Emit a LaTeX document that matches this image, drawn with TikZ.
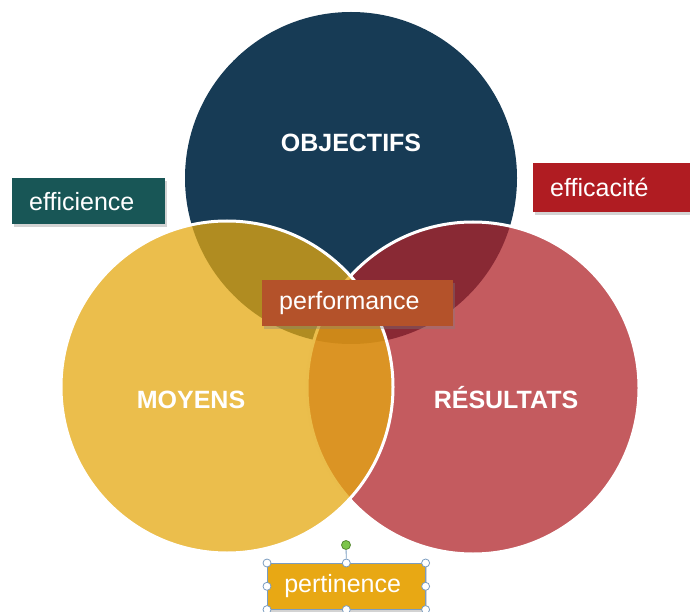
\documentclass[tikz,border=0pt]{standalone}
\usepackage{fontspec}
\setmainfont{Liberation Sans}
\usetikzlibrary{shadows}

\definecolor{objblue}{RGB}{23,59,85}
\definecolor{resred}{RGB}{176,36,42}
\definecolor{moyyellow}{RGB}{228,168,16}
\definecolor{effteal}{RGB}{24,86,86}
\definecolor{effred}{RGB}{176,28,34}
\definecolor{perforange}{RGB}{180,82,42}
\definecolor{pertyellow}{RGB}{232,168,20}
\definecolor{handleblue}{RGB}{122,156,192}
\definecolor{handlegreen}{RGB}{124,197,74}

\tikzset{
  tagbox/.style={rectangle, fill=#1, text=white, anchor=north west, align=left,
    inner xsep=17pt, inner ysep=0pt, minimum height=46pt,
    font=\fontsize{25}{30}\selectfont,
    drop shadow={shadow xshift=2pt, shadow yshift=-3pt, opacity=0.35}},
  settitle/.style={text=white, anchor=base, font=\bfseries\fontsize{25}{30}\selectfont},
  handle/.style={circle, draw=handleblue, fill=white, line width=0.8pt,
    inner sep=0pt, minimum size=8pt}
}

\begin{document}
\begin{tikzpicture}[x=1pt,y=-1pt]
  \useasboundingbox (0,0) rectangle (690,612);
  \coordinate (obj) at (351,178);
  \coordinate (moy) at (227,387);
  \coordinate (res) at (473,388);
  \fill[objblue] (obj) circle[radius=166pt];
  \begin{scope}[fill opacity=0.75, draw=white, line width=3pt]
    \filldraw[fill=resred]    (res) circle[radius=166pt];
    \filldraw[fill=moyyellow] (moy) circle[radius=166pt];
  \end{scope}
  \node[settitle] (objectifs) at (351,152) {OBJECTIFS};
  \node[settitle] (moyens)    at (191,408) {MOYENS};
  \node[settitle] (resultats) at (506,408) {RÉSULTATS};

  \node[tagbox=effteal, text width=119pt] (efficience) at (12,178) {efficience};
  \node[tagbox=effred, text width=150pt, minimum height=49pt] (efficacite) at (533,163) {efficacité};
  \node[tagbox=perforange, text width=157pt] (performance) at (262,280) {performance};
  \node[tagbox=pertyellow, text width=124pt, draw=handleblue, line width=0.6pt] (pertinence) at (267,563) {pertinence};

  % selection handles
  \node[handle, minimum size=9pt, fill=handlegreen, draw=handlegreen!70!black] (rot) at (346,545) {};
  \foreach \a/\n in {north west/nw, north/n, north east/ne, west/w, east/e,
                     south west/sw, south/s, south east/se}
    \node[handle] (h\n) at (pertinence.\a) {};
  \draw[handleblue, line width=0.8pt] (rot) -- (hn);
\end{tikzpicture}
\end{document}
